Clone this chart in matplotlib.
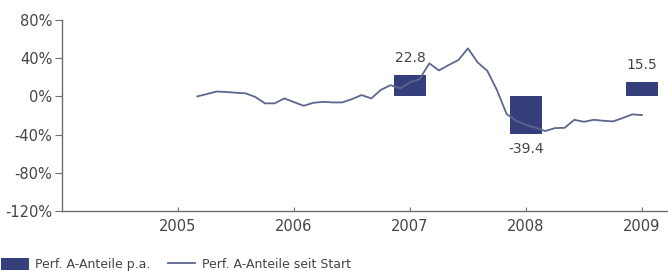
import matplotlib.pyplot as plt
import numpy as np

# yearly performance (bars)
bar_years = [2007, 2008, 2009]
bar_values = [22.8, -39.4, 15.5]

# cumulative performance since start, monthly from Mar 2005 to Jan 2009
line_start = 2005 + 2 / 12
line_values = [0.0, 2.5, 5.1, 4.6, 3.8, 3.2, -0.6, -7.3, -7.3, -2.1,
               -6.0, -9.8, -6.7, -5.7, -6.3, -6.3, -2.8, 1.4, -2.1, 6.9,
               11.8, 8.4, 14.7, 18.1, 34.6, 27.2, 32.8, 38.0, 50.3, 35.6,
               26.8, 6.6, -18.5, -25.5, -30.0, -32.9, -36.3, -33.2, -32.9, -24.5,
               -26.6, -24.5, -25.5, -26.2, -22.7, -18.8, -19.6]

x_ticks = [2005, 2006, 2007, 2008, 2009]
y_ticks = [80, 40, 0, -40, -80, -120]

BAR_COLOR = '#353f7b'
LINE_COLOR = '#5d6690'
TEXT_COLOR = '#444444'
AXIS_COLOR = '#6e6e6e'

plt.rcParams['font.family'] = ['DejaVu Sans']

fig = plt.figure(figsize=(6.68, 2.71), dpi=100)
ax = fig.add_axes([62 / 668, 1 - 211 / 271, 605 / 668, 191 / 271])

line_x = line_start + np.arange(len(line_values)) / 12
bars = ax.bar(bar_years, bar_values, width=0.276, color=BAR_COLOR,
              label='Perf. A-Anteile p.a.', zorder=2)
line, = ax.plot(line_x, line_values, color=LINE_COLOR, lw=1.3,
                label='Perf. A-Anteile seit Start', zorder=3)

for yr, v in zip(bar_years, bar_values):
    off = 7 if v >= 0 else -6
    ax.annotate(f'{v:.1f}', (yr, v), xytext=(0, off), textcoords='offset points',
                ha='center', va='bottom' if v >= 0 else 'top',
                fontsize=10, color=TEXT_COLOR)

ax.set_xlim(2004.0, 2009.216)
ax.set_ylim(-120, 80)
ax.set_xticks(x_ticks)
ax.set_yticks(y_ticks)
ax.set_yticklabels([f'{t}%' for t in y_ticks])

for s in ['top', 'right']:
    ax.spines[s].set_visible(False)
for s in ['left', 'bottom']:
    ax.spines[s].set_color(AXIS_COLOR)
    ax.spines[s].set_linewidth(1.0)
ax.tick_params(axis='y', direction='out', length=5, color=AXIS_COLOR,
               labelsize=10.5, labelcolor=TEXT_COLOR, pad=2)
ax.tick_params(axis='x', direction='in', length=3, color=AXIS_COLOR,
               labelsize=10.5, labelcolor=TEXT_COLOR, pad=6)

fig.legend(handles=[bars, line], loc='lower left', bbox_to_anchor=(0.0, -0.005),
           ncol=2, frameon=False,
           fontsize=9, labelcolor=TEXT_COLOR, handlelength=2.2, handleheight=1.1,
           handletextpad=0.5, columnspacing=1.4, borderaxespad=0.0, borderpad=0.1)

fig.savefig('out.png', dpi=100)
